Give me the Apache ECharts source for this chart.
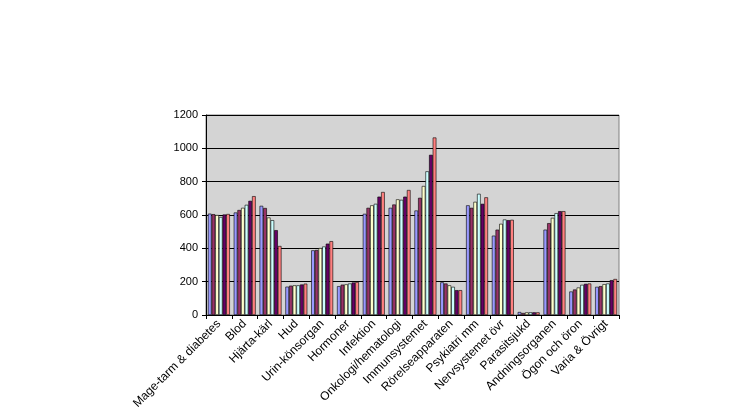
<!DOCTYPE html>
<html>
<head>
<meta charset="utf-8">
<script src="https://cdn.jsdelivr.net/npm/echarts@6/dist/echarts.min.js"></script>
<style>
    html, body { margin: 0; padding: 0; background: #fff; }
    #chart { width: 746px; height: 419px; }
</style>
</head>
<body>
<div id="chart"></div>
<script>
// kategorier
var categories = ['Mage-tarm & diabetes', 'Blod', 'Hjärta-kärl', 'Hud', 'Urin-könsorgan', 'Hormoner',
    'Infektion', 'Onkologi/hematologi', 'Immunsystemet', 'Rörelseapparaten', 'Psykiatri mm',
    'Nervsystemet övr', 'Parasitsjukd', 'Andningsorganen', 'Ögon och öron', 'Varia & Övrigt'];

// en serie per stapel i gruppen
var serie1 = [608, 615, 655, 170, 388, 173, 607, 643, 627, 196, 658, 476, 18, 512, 141, 169];
var serie2 = [605, 630, 642, 176, 390, 182, 643, 663, 703, 189, 643, 512, 12, 551, 153, 173];
var serie3 = [600, 643, 585, 178, 402, 184, 658, 694, 774, 178, 679, 547, 16, 583, 165, 185];
var serie4 = [588, 661, 569, 178, 411, 189, 667, 691, 862, 169, 727, 573, 16, 611, 181, 189];
var serie5 = [603, 685, 509, 183, 428, 195, 710, 710, 961, 149, 667, 569, 16, 623, 187, 209];
var serie6 = [606, 713, 414, 188, 443, 198, 738, 750, 1065, 149, 706, 571, 16, 623, 189, 216];

var yTicks = { min: 0, max: 1200, interval: 200 };

var seriesData = [serie1, serie2, serie3, serie4, serie5, serie6];
var colors = ['#9999FF', '#993366', '#FFFFCC', '#CCFFFF', '#660066', '#FF8080'];

var series = [];
for (var i = 0; i < seriesData.length; i++) {
    series.push({
        name: 'Serie ' + (i + 1),
        type: 'bar',
        barGap: 0,
        barCategoryGap: '15%',
        itemStyle: {
            color: colors[i],
            borderColor: '#000',
            borderWidth: 0.6
        },
        data: seriesData[i]
    });
}

var chart = echarts.init(document.getElementById('chart'));
chart.setOption({
    animation: false,
    textStyle: { fontFamily: 'Liberation Sans, Arial, sans-serif' },
    grid: {
        left: 206,
        right: 127,
        top: 115,
        bottom: 104,
        show: true,
        backgroundColor: '#D4D4D4',
        borderColor: '#808080',
        borderWidth: 1
    },
    xAxis: {
        type: 'category',
        data: categories,
        axisLine: { lineStyle: { color: '#000', width: 1 } },
        axisTick: { show: true, length: 4, lineStyle: { color: '#000' } },
        axisLabel: {
            interval: 0,
            rotate: 45,
            color: '#000',
            fontSize: 12,
            margin: 7
        }
    },
    yAxis: {
        type: 'value',
        min: yTicks.min,
        max: yTicks.max,
        interval: yTicks.interval,
        axisLine: { show: true, lineStyle: { color: '#000', width: 1 } },
        axisTick: { show: true, length: 4, lineStyle: { color: '#000' } },
        axisLabel: {
            color: '#000',
            fontSize: 11,
            margin: 8,
            formatter: function (v) { return String(v); }
        },
        splitLine: { show: true, lineStyle: { color: '#000', width: 1 } }
    },
    series: series
});
</script>
</body>
</html>
